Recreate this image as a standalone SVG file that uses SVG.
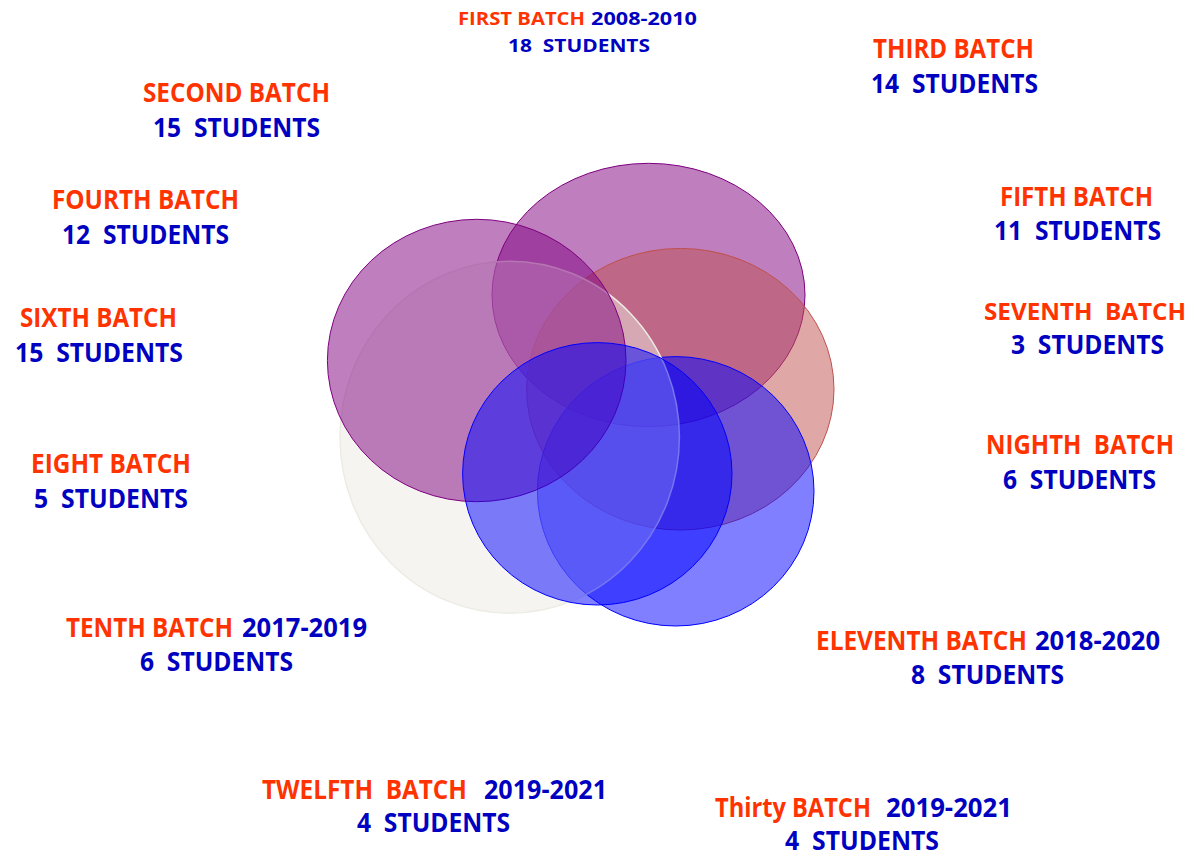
<svg xmlns="http://www.w3.org/2000/svg" width="1196" height="856" viewBox="0 0 1196 856">
<style>
text{font-family:"Open Sans","Liberation Sans",sans-serif;font-weight:bold;font-size:26px;white-space:pre}
.r{fill:#FF3300}
.b{fill:#0000C0}
.s{font-size:17px}
.n{font-size:23.5px}
.pur{fill:#7F007F;fill-opacity:0.5;stroke:#7F007F;stroke-width:1}
.red{fill:#C0504D;fill-opacity:0.5;stroke:#C0504D;stroke-width:1}
.beige{fill:#ECEAE2;fill-opacity:0.5;stroke:#EDEBE4;stroke-width:1.5}
.blu{fill:#0000FF;fill-opacity:0.5;stroke:#0000FF;stroke-width:1}
</style>
<rect width="1196" height="856" fill="#FFFFFF"/>
<g id="shapes">
<g id="ellipse-top"><ellipse class="pur" cx="648.5" cy="295" rx="156.5" ry="131.7"/></g>
<g id="ellipse-red"><ellipse class="red" cx="680.3" cy="389.2" rx="153.7" ry="140.8"/></g>
<g id="ellipse-blue2"><ellipse class="blu" cx="675.7" cy="491.3" rx="138.3" ry="134.7"/></g>
<g id="ellipse-beige"><ellipse class="beige" cx="509.7" cy="437.2" rx="169.7" ry="176"/></g>
<g id="ellipse-left"><ellipse class="pur" cx="476.7" cy="360.5" rx="149.3" ry="141.2"/></g>
<g id="ellipse-blue1"><ellipse class="blu" cx="597.3" cy="473.8" rx="134.7" ry="131.2"/></g>
</g>
<g id="label-first">
<text class="r s" x="458" y="25" textLength="127" lengthAdjust="spacingAndGlyphs">FIRST BATCH</text>
<text class="b s" x="591" y="25" textLength="106" lengthAdjust="spacingAndGlyphs">2008-2010</text>
<text class="b s" x="508" y="52" textLength="142" lengthAdjust="spacingAndGlyphs">18  STUDENTS</text>
</g>
<g id="label-second">
<text class="r" x="143" y="102" textLength="187" lengthAdjust="spacingAndGlyphs">SECOND BATCH</text>
<text class="b" x="153" y="137" textLength="167" lengthAdjust="spacingAndGlyphs">15  STUDENTS</text>
</g>
<g id="label-third">
<text class="r" x="873" y="57.5" textLength="161" lengthAdjust="spacingAndGlyphs">THIRD BATCH</text>
<text class="b" x="871" y="92.5" textLength="167" lengthAdjust="spacingAndGlyphs">14  STUDENTS</text>
</g>
<g id="label-fourth">
<text class="r" x="52" y="209" textLength="187" lengthAdjust="spacingAndGlyphs">FOURTH BATCH</text>
<text class="b" x="62" y="244" textLength="167" lengthAdjust="spacingAndGlyphs">12  STUDENTS</text>
</g>
<g id="label-fifth">
<text class="r" x="1000" y="205.5" textLength="153" lengthAdjust="spacingAndGlyphs">FIFTH BATCH</text>
<text class="b" x="994" y="240" textLength="167" lengthAdjust="spacingAndGlyphs">11  STUDENTS</text>
</g>
<g id="label-sixth">
<text class="r" x="20" y="327" textLength="157" lengthAdjust="spacingAndGlyphs">SIXTH BATCH</text>
<text class="b" x="15" y="362" textLength="168" lengthAdjust="spacingAndGlyphs">15  STUDENTS</text>
</g>
<g id="label-seventh">
<text class="r n" x="984" y="320" textLength="202" lengthAdjust="spacingAndGlyphs">SEVENTH  BATCH</text>
<text class="b" x="1011" y="354" textLength="153" lengthAdjust="spacingAndGlyphs">3  STUDENTS</text>
</g>
<g id="label-eighth">
<text class="r" x="31" y="473" textLength="160" lengthAdjust="spacingAndGlyphs">EIGHT BATCH</text>
<text class="b" x="34" y="508" textLength="154" lengthAdjust="spacingAndGlyphs">5  STUDENTS</text>
</g>
<g id="label-ninth">
<text class="r" x="986" y="454" textLength="188" lengthAdjust="spacingAndGlyphs">NIGHTH  BATCH</text>
<text class="b" x="1003" y="489" textLength="153" lengthAdjust="spacingAndGlyphs">6  STUDENTS</text>
</g>
<g id="label-tenth">
<text class="r" x="66" y="636.5" textLength="167" lengthAdjust="spacingAndGlyphs">TENTH BATCH</text>
<text class="b" x="242" y="636.5" textLength="125" lengthAdjust="spacingAndGlyphs">2017-2019</text>
<text class="b" x="140" y="671" textLength="153" lengthAdjust="spacingAndGlyphs">6  STUDENTS</text>
</g>
<g id="label-eleventh">
<text class="r" x="816" y="650" textLength="211" lengthAdjust="spacingAndGlyphs">ELEVENTH BATCH</text>
<text class="b" x="1035" y="650" textLength="125" lengthAdjust="spacingAndGlyphs">2018-2020</text>
<text class="b" x="911" y="684" textLength="153" lengthAdjust="spacingAndGlyphs">8  STUDENTS</text>
</g>
<g id="label-twelfth">
<text class="r" x="262" y="799" textLength="205" lengthAdjust="spacingAndGlyphs">TWELFTH  BATCH</text>
<text class="b" x="484" y="799" textLength="123" lengthAdjust="spacingAndGlyphs">2019-2021</text>
<text class="b" x="357" y="831.5" textLength="153" lengthAdjust="spacingAndGlyphs">4  STUDENTS</text>
</g>
<g id="label-thirty">
<text class="r" x="715" y="816.5" textLength="156" lengthAdjust="spacingAndGlyphs">Thirty BATCH</text>
<text class="b" x="886" y="816.5" textLength="126" lengthAdjust="spacingAndGlyphs">2019-2021</text>
<text class="b" x="785" y="850" textLength="154" lengthAdjust="spacingAndGlyphs">4  STUDENTS</text>
</g>
</svg>
